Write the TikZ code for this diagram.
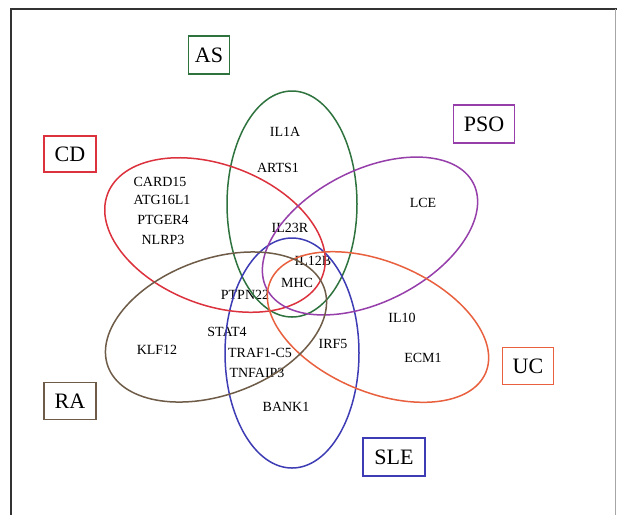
\documentclass[tikz,border=0pt]{standalone}
\usepackage{fontspec}
\setmainfont{Liberation Serif}
\usetikzlibrary{shapes.geometric}
\definecolor{asgreen}{RGB}{46,115,62}
\definecolor{cdred}{RGB}{220,50,62}
\definecolor{psopurple}{RGB}{150,62,170}
\definecolor{ucorange}{RGB}{232,96,62}
\definecolor{rabrown}{RGB}{110,92,72}
\definecolor{sleblue}{RGB}{62,60,180}
\begin{document}
\begin{tikzpicture}[x=1pt,y=-1pt,
  gene/.style={font=\fontsize{14}{14}\selectfont, inner sep=0pt},
  dis/.style={draw=#1, line width=1.3pt, font=\fontsize{22}{22}\selectfont, inner sep=0pt},
  ring/.style={draw=#1, ellipse, line width=1.5pt, inner sep=0pt, minimum width=232pt, minimum height=132pt},
]
\useasboundingbox (0,0) rectangle (617,515);
\fill[white] (0,0) rectangle (617,515);
\draw[line width=2pt, black!80] (11,515) -- (11,9) -- (617,9);
\draw[line width=1pt, black!35] (615.5,9) -- (615.5,515);

% gene labels
\node[gene] (il1a) at (285,132) {IL1A};
\node[gene] (arts1) at (278,168) {ARTS1};
\node[gene] (card15) at (160,182) {CARD15};
\node[gene] (atg) at (162,200) {ATG16L1};
\node[gene] (ptger4) at (163,220) {PTGER4};
\node[gene] (nlrp3) at (163,240) {NLRP3};
\node[gene] (il23r) at (290,228) {IL23R};
\node[gene] (il12b) at (313,261) {IL12B};
\node[gene] (mhc) at (297,283) {MHC};
\node[gene] (ptpn22) at (245,295) {PTPN22};
\node[gene] (stat4) at (227,332) {STAT4};
\node[gene] (klf12) at (157,350) {KLF12};
\node[gene] (traf) at (260,353) {TRAF1-C5};
\node[gene] (tnfaip3) at (257,373) {TNFAIP3};
\node[gene] (bank1) at (286,407) {BANK1};
\node[gene] (irf5) at (333,344) {IRF5};
\node[gene] (lce) at (423,203) {LCE};
\node[gene] (il10) at (402,318) {IL10};
\node[gene] (ecm1) at (423,358) {ECM1};

% disease sets
\node[ring=asgreen, minimum width=130pt, minimum height=226pt] (as) at (292,204) {};
\node[ring=sleblue, minimum width=134pt, minimum height=230pt] (sle) at (292,353) {};
\node[ring=cdred, minimum width=230pt, minimum height=140pt, rotate=-21] (cd) at (215,235) {};
\node[ring=psopurple, rotate=27] (pso) at (370,236) {};
\node[ring=ucorange, minimum width=234pt, minimum height=130pt, rotate=-23] (uc) at (378,327) {};
\node[ring=rabrown, minimum width=230pt, minimum height=136pt, rotate=20] (ra) at (216,327) {};

% disease labels
\node[dis=asgreen, minimum width=41pt, minimum height=38pt] (asl) at (209,55) {AS};
\node[dis=cdred, minimum width=52pt, minimum height=36pt] (cdl) at (70,154) {CD};
\node[dis=psopurple, minimum width=61pt, minimum height=38pt] (psol) at (484,124) {PSO};
\node[dis=ucorange, minimum width=51pt, minimum height=37pt] (ucl) at (528,366) {UC};
\node[dis=rabrown, minimum width=52pt, minimum height=37pt] (ral) at (70,401) {RA};
\node[dis=sleblue, minimum width=62pt, minimum height=38pt] (slel) at (394,457) {SLE};
\end{tikzpicture}
\end{document}
